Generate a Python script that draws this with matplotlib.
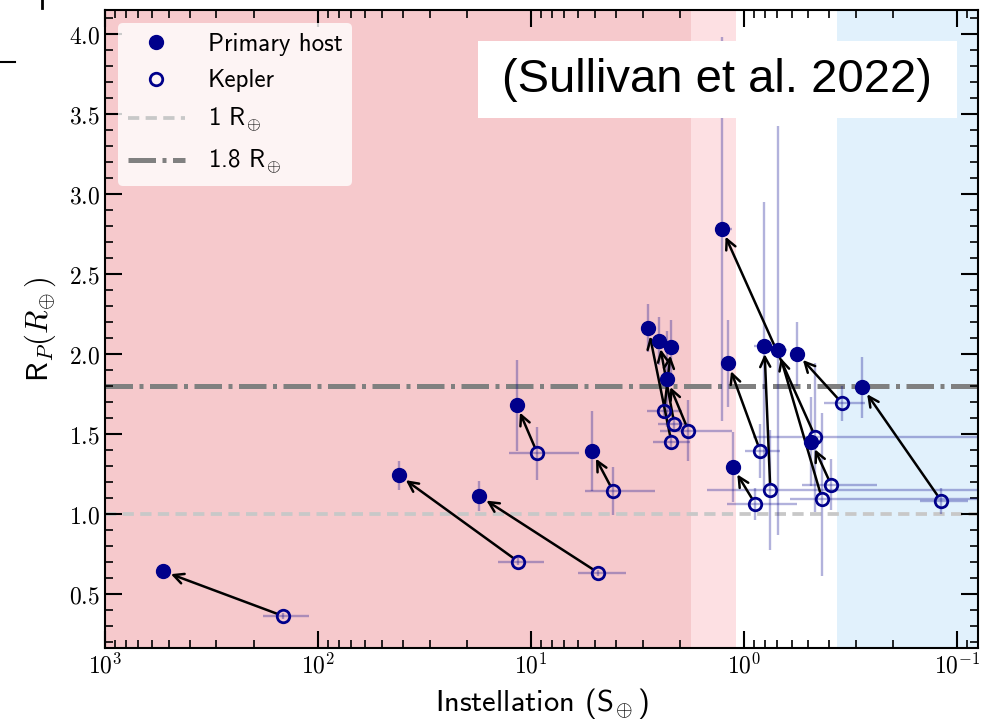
import numpy as np
import matplotlib
matplotlib.use('Agg')
import matplotlib.pyplot as plt
from matplotlib.ticker import FuncFormatter, MultipleLocator, NullFormatter
from matplotlib.patches import Rectangle
from matplotlib.lines import Line2D

plt.rcParams['mathtext.fontset'] = 'cm'

# primary host values (instellation in S_earth, radius in R_earth)
host_S = np.array([534, 41.7, 17.5, 11.7, 5.18, 2.82, 2.51, 2.20, 2.30, 1.27, 0.805, 0.692, 0.564, 0.484, 1.19, 1.13, 0.279])
host_R = np.array([0.64, 1.24, 1.11, 1.68, 1.39, 2.16, 2.08, 2.04, 1.84, 2.78, 2.05, 2.025, 2.00, 1.45, 1.94, 1.29, 1.79])
host_S_lo = np.array([0, 0, 0, 0, 0, 0, 0, 0, 0, 0.13, 0.065, 0.06, 0, 0, 0, 0, 0])
host_S_hi = np.array([0, 0, 0, 0, 0, 0, 0, 0, 0, 0.10, 0.10, 0.04, 0, 0, 0, 0, 0])
host_R_lo = np.array([0.035, 0.09, 0.095, 0.29, 0.25, 0.15, 0.15, 0.17, 0.30, 1.20, 0.90, 1.16, 0.20, 0.28, 0.27, 0.22, 0.19])
host_R_hi = np.array([0.035, 0.09, 0.095, 0.28, 0.25, 0.15, 0.15, 0.17, 0.30, 1.20, 0.90, 1.40, 0.20, 0.28, 0.27, 0.22, 0.19])

# Kepler values for the same planets (same order)
kep_S = np.array([146, 11.5, 4.84, 9.37, 4.12, 2.20, 2.13, 2.38, 1.83, 0.464, 0.755, 0.431, 0.347, 0.391, 0.841, 0.887, 0.119])
kep_R = np.array([0.36, 0.70, 0.63, 1.38, 1.14, 1.45, 1.56, 1.64, 1.52, 1.48, 1.15, 1.09, 1.69, 1.18, 1.39, 1.06, 1.08])
kep_S_lo = np.array([36, 2.8, 1.24, 3.4, 1.5, 0.41, 0.30, 0.43, 0.69, 0.434, 0.715, 0.39, 0.077, 0.153, 0.163, 0.323, 0.03])
kep_S_hi = np.array([35, 2.8, 1.16, 3.4, 1.5, 0.47, 0.40, 0.47, 0.65, 0.444, 0.735, 0.18, 0.077, 0.144, 0.149, 0.313, 0.03])
kep_R_lo = np.array([0.02, 0.02, 0.02, 0.17, 0.15, 0.05, 0.05, 0.05, 0.19, 0.47, 0.375, 0.48, 0.11, 0.16, 0.17, 0.10, 0.08])
kep_R_hi = np.array([0.02, 0.02, 0.02, 0.16, 0.15, 0.05, 0.05, 0.05, 0.19, 0.46, 0.375, 0.54, 0.11, 0.16, 0.17, 0.10, 0.08])

# habitable-zone style shading (S edges)
hot_edge = 1.77
inner_edge = 1.09
outer_edge = 0.366

navy = '#00008b'

fig = plt.figure(figsize=(9.88, 7.27), dpi=100)
ax = fig.add_axes([0.1063, 0.1087, 0.8836, 0.8775])

ax.axvspan(1e4, hot_edge, color='#f6c9cc', lw=0, zorder=0)
ax.axvspan(hot_edge, inner_edge, color='#fde0e3', lw=0, zorder=0)
ax.axvspan(outer_edge, 1e-3, color='#e1f1fc', lw=0, zorder=0)

ax.axhline(1.0, color='#c8c8c8', lw=2.7, dashes=(3.0, 1.7), zorder=1, label=r'1 $\mathsf{R}_{\!\oplus}$')
ax.axhline(1.8, color='#808080', lw=3.6, dashes=(5.5, 1.3, 0.8, 1.3), zorder=1, label=r'1.8 $\mathsf{R}_{\!\oplus}$')

ax.errorbar(host_S, host_R, xerr=[host_S_lo, host_S_hi], yerr=[host_R_lo, host_R_hi],
            fmt='none', ecolor=navy, alpha=0.3, elinewidth=1.7, capsize=0, zorder=2)
ax.errorbar(kep_S, kep_R, xerr=[kep_S_lo, kep_S_hi], yerr=[kep_R_lo, kep_R_hi],
            fmt='none', ecolor=navy, alpha=0.3, elinewidth=1.7, capsize=0, zorder=2)

for xs, ys, xh, yh in zip(kep_S, kep_R, host_S, host_R):
    ax.annotate('', xy=(xh, yh), xytext=(xs, ys),
                arrowprops=dict(arrowstyle='->', color='k', lw=1.8,
                                mutation_scale=18, shrinkA=5, shrinkB=6),
                zorder=3)

ax.plot(host_S, host_R, 'o', color=navy, ms=10, ls='none', zorder=5, label='Primary host')
ax.plot(kep_S, kep_R, 'o', mfc='none', mec=navy, mew=2, ms=9, ls='none', zorder=5, label='Kepler')

ax.set_xscale('log')
ax.set_xlim(1000, 0.08)
ax.set_ylim(0.16, 4.15)

ax.xaxis.set_major_formatter(FuncFormatter(lambda v, p: r'$10^{%d}$' % round(np.log10(v))))
ax.xaxis.set_minor_formatter(NullFormatter())
ax.yaxis.set_major_locator(MultipleLocator(0.5))
ax.yaxis.set_minor_locator(MultipleLocator(0.1))
ax.yaxis.set_major_formatter(FuncFormatter(lambda v, p: r'$%.1f$' % v))

ax.tick_params(which='both', direction='in', top=True, right=True)
ax.tick_params(which='major', length=12, width=1.5, labelsize=17)
ax.tick_params(which='minor', length=6, width=1.2)
for s in ax.spines.values():
    s.set_linewidth(1.5)

ax.set_xlabel(r'Instellation ($\mathsf{S}_{\!\oplus}$)', family='cmss10', fontsize=22, labelpad=6)
ax.set_ylabel(r'$\mathsf{R}_P(R_{\!\oplus})$', family='cmss10', fontsize=22, labelpad=8)

h, l = ax.get_legend_handles_labels()
order = [2, 3, 0, 1]
ax.legend([h[i] for i in order], [l[i] for i in order], loc='upper left',
          prop={'family': 'cmss10', 'size': 18}, framealpha=0.8, edgecolor='none',
          handlelength=2.3, handletextpad=0.9, labelspacing=0.55)

# citation box
fig.add_artist(Rectangle((478 / 988, 1 - 118 / 727), 479 / 988, 77 / 727,
                         transform=fig.transFigure, facecolor='white', edgecolor='none', zorder=10))
fig.text(717 / 988, 1 - 80 / 727, '(Sullivan et al. 2022)', family='Liberation Sans',
         fontsize=34, ha='center', va='center', zorder=11)

# small marks at the top-left corner of the original slide crop
fig.add_artist(Line2D([42 / 988, 42 / 988], [1, 1 - 8 / 727], color='k', lw=2))
fig.add_artist(Line2D([0, 15 / 988], [1 - 62 / 727, 1 - 62 / 727], color='k', lw=1.5))

fig.savefig('out.png', dpi=100)
